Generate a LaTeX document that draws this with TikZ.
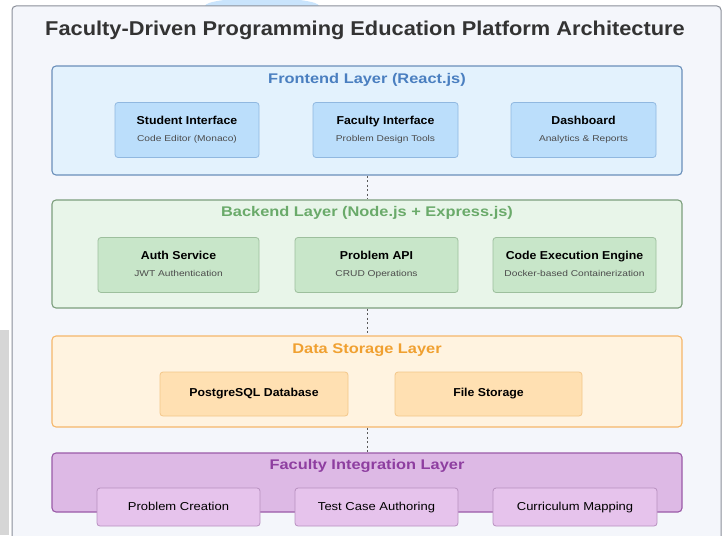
\documentclass[tikz,border=0pt]{standalone}
\usepackage{fontspec}
\setmainfont{Liberation Sans}
\definecolor{panelbg}{HTML}{F4F6FB}
\definecolor{panelline}{HTML}{8A8F99}
\definecolor{feFill}{HTML}{E3F2FD}
\definecolor{feLine}{HTML}{6A8FBA}
\definecolor{feSub}{HTML}{BBDEFB}
\definecolor{feSubLine}{HTML}{90B8E0}
\definecolor{feText}{HTML}{4A7FC0}
\definecolor{beFill}{HTML}{E8F5E9}
\definecolor{beLine}{HTML}{7C9E7C}
\definecolor{beSub}{HTML}{C8E6C9}
\definecolor{beSubLine}{HTML}{9DBF9D}
\definecolor{beText}{HTML}{6AAA6A}
\definecolor{dsFill}{HTML}{FFF3E0}
\definecolor{dsLine}{HTML}{F5B76A}
\definecolor{dsSub}{HTML}{FFE0B2}
\definecolor{dsSubLine}{HTML}{F3C78A}
\definecolor{dsText}{HTML}{F0A030}
\definecolor{fiFill}{HTML}{DDB9E5}
\definecolor{fiLine}{HTML}{9A5AA8}
\definecolor{fiSub}{HTML}{E6C3EC}
\definecolor{fiSubLine}{HTML}{B890C0}
\definecolor{fiText}{HTML}{8E3EA0}
% component label: bold name over a small note
\newcommand{\compname}[1]{\scalebox{1.07}[1]{\bfseries\fontsize{11.5}{13}\selectfont #1\strut}}
\newcommand{\compinfo}[1]{\scalebox{1.2}[1]{\fontsize{8.5}{10}\selectfont\color{black!70}#1\strut}}
\newcommand{\layername}[1]{\scalebox{1.17}[1]{#1}}

\begin{document}
\begin{tikzpicture}[x=1pt, y=-1pt,
    every node/.style={font=\fontsize{10}{12}\selectfont, inner sep=0pt},
    layer/.style={draw, rounded corners=4pt, line width=1.1pt, minimum width=630pt},
    layertitle/.style={font=\bfseries\fontsize{14}{16}\selectfont},
    comp/.style={draw, rounded corners=3pt, line width=0.8pt, align=center},
    tool/.style={comp, fill=fiSub, draw=fiSubLine, minimum height=38pt, text height=8.5pt, text depth=2.5pt,
      font=\fontsize{11.5}{13}\selectfont},
    link/.style={draw=black!65, line width=1pt, dash pattern=on 2pt off 2.5pt}]
  \useasboundingbox (0,0) rectangle (727,535);
  \clip (0,0) rectangle (727,535);
  \fill[white] (0,0) rectangle (727,535);
  \fill[black!16] (0,330) rectangle (9,535);
  \fill[feSub!80] (262,6) ellipse (57 and 8);

  % outer panel
  \draw[fill=panelbg, draw=panelline, line width=1pt, rounded corners=4pt] (12,6) rectangle (721,560);
  \node[font=\bfseries\fontsize{20}{24}\selectfont, text=black!80] (title) at (365,30)
    {\scalebox{1.09}[1]{Faculty-Driven Programming Education Platform Architecture}};

  % frontend
  \node[layer, fill=feFill, draw=feLine, minimum height=109pt] (frontend) at (367,120.5) {};
  \node[layertitle, text=feText] (frontendtitle) at (367,80) {\layername{Frontend Layer (React.js)}};
  \node[comp, fill=feSub, draw=feSubLine, minimum width=144pt, minimum height=55pt] (student) at (187,130)
    {\compname{Student Interface}\\[5pt]\compinfo{Code Editor (Monaco)}};
  \node[comp, fill=feSub, draw=feSubLine, minimum width=145pt, minimum height=55pt] (facultyui) at (385.5,130)
    {\compname{Faculty Interface}\\[5pt]\compinfo{Problem Design Tools}};
  \node[comp, fill=feSub, draw=feSubLine, minimum width=145pt, minimum height=55pt] (dashboard) at (583.5,130)
    {\compname{Dashboard}\\[5pt]\compinfo{Analytics \& Reports}};

  % backend
  \node[layer, fill=beFill, draw=beLine, minimum height=108pt] (backend) at (367,254) {};
  \node[layertitle, text=beText] (backendtitle) at (367,213) {\layername{Backend Layer (Node.js + Express.js)}};
  \node[comp, fill=beSub, draw=beSubLine, minimum width=161pt, minimum height=55pt] (auth) at (178.5,265)
    {\compname{Auth Service}\\[5pt]\compinfo{JWT Authentication}};
  \node[comp, fill=beSub, draw=beSubLine, minimum width=163pt, minimum height=55pt] (api) at (376.5,265)
    {\compname{Problem API}\\[5pt]\compinfo{CRUD Operations}};
  \node[comp, fill=beSub, draw=beSubLine, minimum width=163pt, minimum height=55pt] (engine) at (574.5,265)
    {\compname{Code Execution Engine}\\[5pt]\compinfo{Docker-based Containerization}};

  % data storage
  \node[layer, fill=dsFill, draw=dsLine, minimum height=91pt] (storage) at (367,381.5) {};
  \node[layertitle, text=dsText] (storagetitle) at (367,350) {\layername{Data Storage Layer}};
  \node[comp, fill=dsSub, draw=dsSubLine, minimum width=188pt, minimum height=44pt] (postgres) at (254,394)
    {\compname{PostgreSQL Database}};
  \node[comp, fill=dsSub, draw=dsSubLine, minimum width=187pt, minimum height=44pt] (files) at (488.5,394)
    {\compname{File Storage}};

  % faculty integration
  \node[layer, fill=fiFill, draw=fiLine, minimum height=59pt] (integration) at (367,482.5) {};
  \node[layertitle, text=fiText] (integrationtitle) at (367,466) {\layername{Faculty Integration Layer}};
  \node[tool, minimum width=163pt] (creation) at (178.5,507) {\scalebox{1.13}[1]{Problem Creation}};
  \node[tool, minimum width=163pt] (authoring) at (376.5,507) {\scalebox{1.13}[1]{Test Case Authoring}};
  \node[tool, minimum width=164pt] (mapping) at (575,507) {\scalebox{1.13}[1]{Curriculum Mapping}};

  % layer links
  \draw[link] (frontend.south) -- (backend.north);
  \draw[link] (backend.south) -- (storage.north);
  \draw[link] (storage.south) -- (integration.north);
\end{tikzpicture}
\end{document}
